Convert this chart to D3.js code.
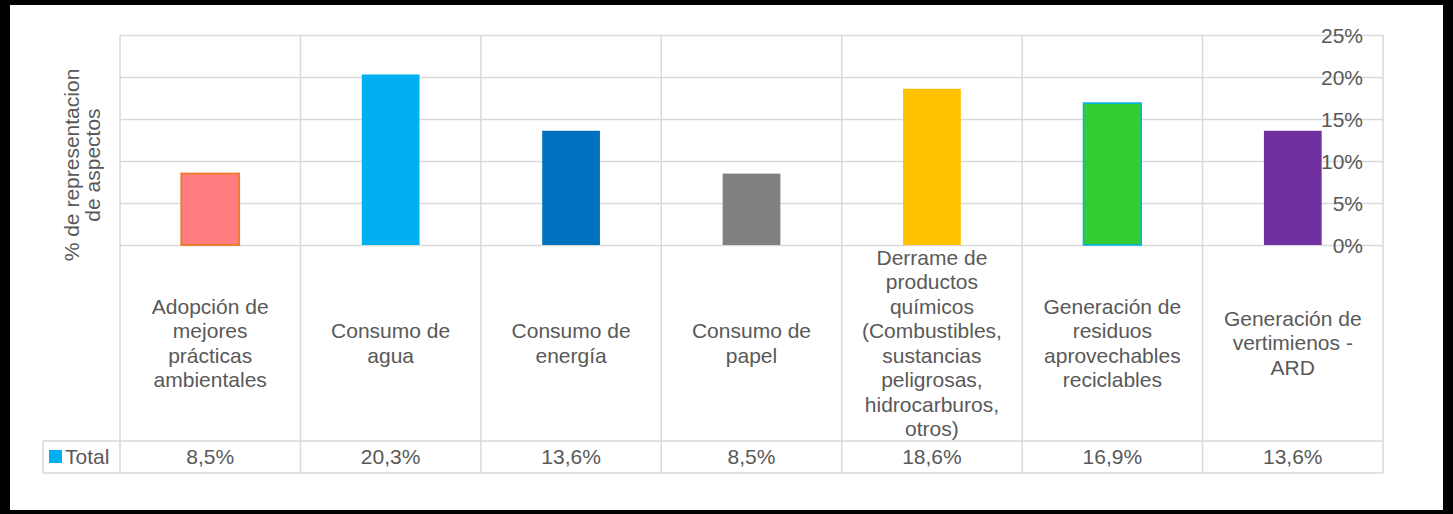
<!DOCTYPE html>
<html lang="es">
<head>
  <meta charset="UTF-8">
  <script src="https://d3js.org/d3.v7.min.js"></script>
  <title>Aspectos ambientales</title>
  <style>
    body { margin: 0; background: #000; }
    svg { display: block; font-family: "Liberation Sans", Arial, sans-serif; }
    .grid line { stroke: #d9d9d9; stroke-width: 1.5px; }
    .grid path { display: none; }
    .label { fill: #595959; font-size: 21px; }
  </style>
</head>
<body>
  <svg id="chart" width="1453" height="514"></svg>

  <script>
    // category labels, already broken into lines as in the original
    const categories = [
      ["Adopción de", "mejores", "prácticas", "ambientales"],
      ["Consumo de", "agua"],
      ["Consumo de", "energía"],
      ["Consumo de", "papel"],
      ["Derrame de", "productos", "químicos", "(Combustibles,", "sustancias", "peligrosas,", "hidrocarburos,", "otros)"],
      ["Generación de", "residuos", "aprovechables", "reciclables"],
      ["Generación de", "vertimienos -", "ARD"]
    ];
    const values = [0.085, 0.203, 0.136, 0.085, 0.186, 0.169, 0.136];
    const tableLabels = ["8,5%", "20,3%", "13,6%", "8,5%", "18,6%", "16,9%", "13,6%"];
    const yTicks = [0, 0.05, 0.10, 0.15, 0.20, 0.25];
    const fills = ["#ff7c80", "#00b0f0", "#0070c0", "#808080", "#ffc000", "#32cd32", "#7030a0"];
    const strokes = ["#ed7d31", "none", "none", "none", "none", "#00b0f0", "none"];

    const svg = d3.select("#chart");
    svg.append("rect").attr("x", 10).attr("y", 5).attr("width", 1433).attr("height", 505).attr("fill", "#fff");

    const plotL = 120, plotR = 1383, plotT = 35, base = 245;
    const headBottom = 441, tableBottom = 473, legendLeft = 43;

    const x = d3.scaleBand().domain(d3.range(categories.length)).range([plotL, plotR]).padding(0);
    const y = d3.scaleLinear().domain([0, 0.25]).range([base, plotT]);

    // horizontal gridlines
    svg.append("g").attr("class", "grid")
      .attr("transform", `translate(${plotL},0)`)
      .call(d3.axisLeft(y).tickValues(yTicks).tickSize(-(plotR - plotL)).tickFormat(""));

    // vertical separators, through plot and table
    const vLines = d3.range(categories.length + 1).map(i => i < categories.length ? x(i) : plotR);
    svg.append("g").selectAll("line").data(vLines).join("line")
      .attr("x1", d => d).attr("x2", d => d)
      .attr("y1", plotT).attr("y2", tableBottom)
      .attr("stroke", "#d9d9d9").attr("stroke-width", 1.5);

    // table lines
    [headBottom, tableBottom].forEach(yy => {
      svg.append("line").attr("x1", legendLeft).attr("x2", plotR).attr("y1", yy).attr("y2", yy)
        .attr("stroke", "#d9d9d9").attr("stroke-width", 1.5);
    });
    svg.append("line").attr("x1", legendLeft).attr("x2", legendLeft).attr("y1", headBottom).attr("y2", tableBottom)
      .attr("stroke", "#d9d9d9").attr("stroke-width", 1.5);

    // bars
    const barW = x.bandwidth() * 0.32;
    svg.append("g").selectAll("rect").data(values).join("rect")
      .attr("x", (d, i) => x(i) + (x.bandwidth() - barW) / 2)
      .attr("y", d => y(d))
      .attr("width", barW)
      .attr("height", d => base - y(d))
      .attr("fill", (d, i) => fills[i])
      .attr("stroke", (d, i) => strokes[i])
      .attr("stroke-width", (d, i) => i === 0 ? 2 : 1.5);

    // right-side value axis (labels sit inside the plot edge)
    const yAxis = svg.append("g")
      .attr("transform", `translate(${plotR},0)`)
      .call(d3.axisLeft(y).tickValues(yTicks).tickSize(0).tickPadding(20).tickFormat(d3.format(".0%")));
    yAxis.select(".domain").remove();
    yAxis.attr("font-family", null).attr("font-size", null);
    yAxis.selectAll("text").attr("class", "label").attr("fill", null).attr("dy", "0.35em");

    // category labels
    const lineH = 24.5;
    const midHead = (base + headBottom) / 2;
    svg.append("g").selectAll("text").data(categories).join("text")
      .attr("class", "label")
      .attr("text-anchor", "middle")
      .each(function (lines, i) {
        const t = d3.select(this);
        const cx = x(i) + x.bandwidth() / 2;
        const y0 = midHead - (lines.length - 1) * lineH / 2;
        lines.forEach((ln, k) => {
          t.append("tspan").attr("x", cx).attr("y", y0 + k * lineH).attr("dy", "0.35em").text(ln);
        });
      });

    // table values
    const rowMid = (headBottom + tableBottom) / 2;
    svg.append("g").selectAll("text").data(tableLabels).join("text")
      .attr("class", "label")
      .attr("text-anchor", "middle")
      .attr("x", (d, i) => x(i) + x.bandwidth() / 2)
      .attr("y", rowMid)
      .attr("dy", "0.35em")
      .text(d => d);

    // legend key
    svg.append("rect").attr("x", 49).attr("y", rowMid - 7).attr("width", 13).attr("height", 13).attr("fill", "#00b0f0");
    svg.append("text").attr("class", "label").attr("x", 65).attr("y", rowMid).attr("dy", "0.35em").text("Total");

    // y axis title
    svg.append("text").attr("class", "label")
      .attr("text-anchor", "middle")
      .attr("transform", "translate(72,165) rotate(-90)")
      .selectAll("tspan").data(["% de representacion", "de aspectos"]).join("tspan")
      .attr("x", 0).attr("y", (d, i) => i * 21).attr("dy", "0.35em")
      .text(d => d);
  </script>
</body>
</html>
